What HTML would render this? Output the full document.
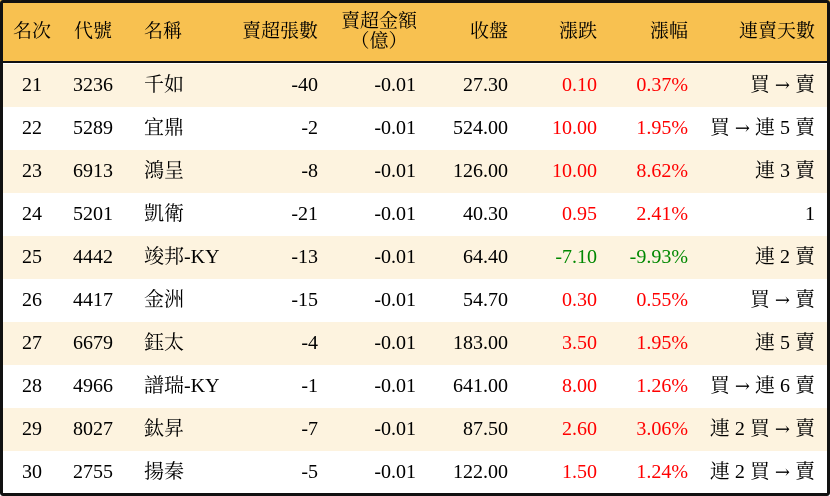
<!DOCTYPE html>
<html><head><meta charset="utf-8"><style>
*{margin:0;padding:0;box-sizing:border-box}
body{width:830px;height:496px;background:#fff;font-family:"Liberation Serif","Noto Serif CJK SC",serif;font-size:20px;color:#000;position:relative;overflow:hidden}
.frame{position:absolute;left:0;top:0;width:830px;height:496px;border:3px solid #111;border-radius:3px;}
.hdr{position:absolute;left:0;top:0;width:830px;height:63px;background:#F8C150;border-bottom:2px solid #111;font-size:19px}
.row{position:absolute;left:0;width:830px;height:43px}
.odd{background:#FDF3DF}
.c{position:absolute;line-height:43px;white-space:nowrap}
.h{position:absolute;white-space:nowrap;line-height:20px}
.r{text-align:right}
.red{color:#f00}.grn{color:#080}
.ar{font-family:"DejaVu Serif",serif;font-size:18px}
</style></head><body>
<div class="hdr">
<div class="h" style="left:13px;top:22px">名次</div>
<div class="h" style="left:74px;top:22px">代號</div>
<div class="h" style="left:144px;top:22px">名稱</div>
<div class="h r" style="right:512px;top:22px">賣超張數</div>
<div class="h" style="left:337px;top:12px;text-align:center;width:84px">賣超金額<br>（億）</div>
<div class="h r" style="right:322px;top:22px">收盤</div>
<div class="h r" style="right:233px;top:22px">漲跌</div>
<div class="h r" style="right:142px;top:22px">漲幅</div>
<div class="h r" style="right:15px;top:22px">連賣天數</div>
</div>
<div id="rows"></div>
<div class="frame"></div>
<script>
var A=' <span class="ar">→</span> ';
var d=[["21","3236","千如","-40","27.30","0.10","0.37%","買"+A+"賣",1],
["22","5289","宜鼎","-2","524.00","10.00","1.95%","買"+A+"連 5 賣",1],
["23","6913","鴻呈","-8","126.00","10.00","8.62%","連 3 賣",1],
["24","5201","凱衛","-21","40.30","0.95","2.41%","1",1],
["25","4442","竣邦-KY","-13","64.40","-7.10","-9.93%","連 2 賣",0],
["26","4417","金洲","-15","54.70","0.30","0.55%","買"+A+"賣",1],
["27","6679","鈺太","-4","183.00","3.50","1.95%","連 5 賣",1],
["28","4966","譜瑞-KY","-1","641.00","8.00","1.26%","買"+A+"連 6 賣",1],
["29","8027","鈦昇","-7","87.50","2.60","3.06%","連 2 買"+A+"賣",1],
["30","2755","揚秦","-5","122.00","1.50","1.24%","連 2 買"+A+"賣",1]];
var h="";
d.forEach(function(r,i){
var cl=r[8]?"red":"grn";
h+='<div class="row'+(i%2==0?' odd':'')+'" style="top:'+(64+i*43)+'px">'+
'<div class="c" style="left:22px">'+r[0]+'</div>'+
'<div class="c" style="left:73px">'+r[1]+'</div>'+
'<div class="c" style="left:144px">'+r[2]+'</div>'+
'<div class="c r" style="right:512px">'+r[3]+'</div>'+
'<div class="c r" style="right:414px">-0.01</div>'+
'<div class="c r" style="right:322px">'+r[4]+'</div>'+
'<div class="c r '+cl+'" style="right:233px">'+r[5]+'</div>'+
'<div class="c r '+cl+'" style="right:142px">'+r[6]+'</div>'+
'<div class="c r" style="right:15px">'+r[7]+'</div></div>';
});
document.getElementById("rows").innerHTML=h;
</script>
</body></html>
